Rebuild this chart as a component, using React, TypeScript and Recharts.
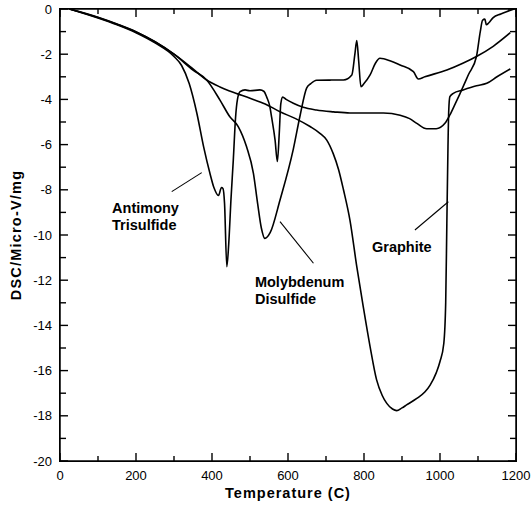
import React from "react";
import {
  LineChart,
  Line,
  XAxis,
  YAxis,
  ReferenceLine,
  ReferenceDot,
} from "recharts";

// ── Data (temperature °C, DSC µV/mg) ─────────────────────────────────────────

const antimony = [
  [25, 0], [100, -0.4], [150, -0.7], [200, -1.05], [250, -1.5], [300, -2.1],
  [320, -2.5], [340, -3.3], [360, -4.6], [378, -6.1], [395, -7.3], [405, -7.9],
  [417, -8.25], [425, -7.9], [429, -7.95], [433, -8.6], [439, -11.4], [444, -10.4],
  [450, -8.4], [456, -6.7], [462, -4.8], [467, -4.0], [474, -3.66], [487, -3.58],
  [500, -3.62], [526, -3.58], [537, -3.65], [544, -3.9], [552, -4.3], [557, -4.8],
  [566, -5.8], [572, -6.75], [577, -5.5], [581, -4.2], [586, -3.9], [595, -4.0],
  [614, -4.17], [640, -4.35], [675, -4.47], [720, -4.55], [763, -4.6], [851, -4.6],
  [895, -4.7], [920, -4.85], [939, -5.06], [965, -5.3], [990, -5.3], [1013, -5.06],
  [1026, -4.69], [1040, -4.2], [1053, -3.73], [1075, -2.9], [1096, -2.1],
  [1106, -1.0], [1112, -0.5], [1118, -0.45], [1122, -0.7], [1128, -0.62],
  [1140, -0.38], [1160, -0.22], [1175, -0.12], [1195, 0],
].map(([t, v]) => ({ t, v }));

const molybdenum = [
  [25, 0], [100, -0.38], [150, -0.68], [200, -1.02], [250, -1.45], [300, -2.0],
  [350, -2.7], [386, -3.14], [421, -4.03], [447, -4.77], [469, -5.2], [491, -6.1],
  [509, -7.27], [520, -8.6], [530, -9.7], [539, -10.15], [553, -9.9], [579, -8.45],
  [614, -6.2], [632, -4.7], [649, -3.5], [660, -3.3], [675, -3.15], [746, -3.14],
  [768, -2.92], [776, -2.0], [781, -1.4], [786, -2.3], [792, -3.44], [800, -3.3],
  [816, -2.92], [830, -2.4], [842, -2.18], [870, -2.3], [895, -2.48], [930, -2.77],
  [943, -3.1], [960, -3.0], [1018, -2.7], [1060, -2.4], [1096, -2.1],
  [1140, -1.65], [1185, -1.05],
].map(([t, v]) => ({ t, v }));

const graphite = [
  [25, 0], [100, -0.36], [150, -0.66], [200, -1.0], [250, -1.45], [300, -2.0],
  [350, -2.65], [386, -3.14], [421, -3.45], [450, -3.65], [500, -3.95], [540, -4.2],
  [579, -4.55], [620, -4.85], [658, -5.2], [684, -5.5], [702, -5.8], [719, -6.4],
  [733, -7.1], [746, -8.0], [763, -9.34], [781, -11.4], [798, -13.17], [816, -14.94],
  [833, -16.4], [848, -17.1], [860, -17.45], [875, -17.7], [886, -17.77],
  [900, -17.65], [912, -17.52], [939, -17.23], [960, -16.95], [974, -16.64],
  [990, -16.1], [1000, -15.6], [1010, -14.8], [1015, -13.0], [1018, -9.5],
  [1021, -6.1], [1023, -4.5], [1026, -3.88], [1035, -3.73], [1061, -3.58],
  [1096, -3.4], [1123, -3.29], [1150, -3.0], [1185, -2.65],
].map(([t, v]) => ({ t, v }));

const xTicks = [0, 100, 200, 300, 400, 500, 600, 700, 800, 900, 1000, 1100, 1200];
const yTicks = [0, -1, -2, -3, -4, -5, -6, -7, -8, -9, -10, -11, -12, -13, -14, -15, -16, -17, -18, -19, -20];

// annotation labels: [text lines], anchor (t, v) and pointer segment
const labels = [
  { lines: ["Antimony", "Trisulfide"], t: 137, v: -9.03, from: [294, -8.08], to: [373, -7.24] },
  { lines: ["Molybdenum", "Disulfide"], t: 513, v: -12.3, from: [579, -9.41], to: [667, -11.25] },
  { lines: ["Graphite"], t: 821, v: -10.75, from: [934, -9.78], to: [1022, -8.53] },
];

const FONT = "'Liberation Sans', Arial, Helvetica, sans-serif";
const INK = "#000";

// layout
const W = 532;
const H = 506;
const MARGIN = { top: 9, right: 16, bottom: 20, left: 0 };
const X_AXIS_H = 25;
const Y_AXIS_W = 60;
const PLOT_TOP = MARGIN.top;
const PLOT_RIGHT = W - MARGIN.right;
const PLOT_LEFT = MARGIN.left + Y_AXIS_W;
const PLOT_BOTTOM = H - MARGIN.bottom - X_AXIS_H;

// ── Ticks (drawn inward, mirrored on top / right frame) ─────────────────────

function BottomTick({ x, y, payload }: any) {
  const major = payload.value % 200 === 0;
  const len = major ? 8 : 5;
  return (
    <g>
      <line x1={x} x2={x} y1={y} y2={y - len} stroke={INK} strokeWidth={1.4} />
      <line x1={x} x2={x} y1={PLOT_TOP} y2={PLOT_TOP + len} stroke={INK} strokeWidth={1.4} />
      {major ? (
        <text x={x} y={y + 19} textAnchor="middle" fontFamily={FONT} fontSize={13} fill={INK}>
          {payload.value}
        </text>
      ) : null}
    </g>
  );
}

function LeftTick({ x, y, payload }: any) {
  const major = payload.value % 2 === 0;
  const len = major ? 8 : 6;
  return (
    <g>
      <line x1={x} x2={x + len} y1={y} y2={y} stroke={INK} strokeWidth={1.4} />
      <line x1={PLOT_RIGHT} x2={PLOT_RIGHT - len} y1={y} y2={y} stroke={INK} strokeWidth={1.4} />
      {major ? (
        <text x={x - 8} y={y + 4.5} textAnchor="end" fontFamily={FONT} fontSize={13} fill={INK}>
          {payload.value}
        </text>
      ) : null}
    </g>
  );
}

export default function App() {
  const axisLine = { stroke: INK, strokeWidth: 1.5 };
  return (
    <div style={{ position: "relative", width: W, height: H }}>
      <style>{"body{margin:0}"}</style>
      <LineChart width={W} height={H} margin={MARGIN}>
        <XAxis
          dataKey="t"
          type="number"
          domain={[0, 1200]}
          ticks={xTicks}
          interval={0}
          tickSize={0}
          tickMargin={0}
          tickLine={false}
          tick={<BottomTick />}
          axisLine={axisLine}
          height={X_AXIS_H}
          label={{
            content: ({ viewBox }: any) => (
              <text
                x={viewBox.x + viewBox.width / 2}
                y={498}
                textAnchor="middle"
                fontFamily={FONT}
                fontWeight="bold"
                fontSize={14.5}
                letterSpacing={1}
                fill={INK}
              >
                Temperature (C)
              </text>
            ),
          }}
        />
        <YAxis
          type="number"
          domain={[-20, 0]}
          ticks={yTicks}
          interval={0}
          tickSize={0}
          tickMargin={0}
          tickLine={false}
          tick={<LeftTick />}
          axisLine={axisLine}
          width={Y_AXIS_W}
          label={{
            content: ({ viewBox }: any) => {
              const cx = 16;
              const cy = viewBox.y + viewBox.height / 2;
              return (
                <text
                  x={cx}
                  y={cy}
                  transform={`rotate(-90 ${cx} ${cy})`}
                  textAnchor="middle"
                  dominantBaseline="central"
                  fontFamily={FONT}
                  fontWeight="bold"
                  fontSize={14.5}
                  letterSpacing={1.2}
                  fill={INK}
                >
                  DSC/Micro-V/mg
                </text>
              );
            },
          }}
        />

        <Line data={antimony} dataKey="v" type="monotone" stroke={INK} strokeWidth={1.6} dot={false} isAnimationActive={false} />
        <Line data={molybdenum} dataKey="v" type="monotone" stroke={INK} strokeWidth={1.6} dot={false} isAnimationActive={false} />
        <Line data={graphite} dataKey="v" type="monotone" stroke={INK} strokeWidth={1.6} dot={false} isAnimationActive={false} />

        {/* frame: top and right edges */}
        <ReferenceLine y={0} stroke={INK} strokeWidth={1.5} />
        <ReferenceLine x={1200} stroke={INK} strokeWidth={1.5} />

        {labels.map((l) => (
          <ReferenceLine
            key={"p" + l.lines[0]}
            segment={[{ x: l.from[0], y: l.from[1] }, { x: l.to[0], y: l.to[1] }]}
            stroke={INK}
            strokeWidth={1.1}
          />
        ))}
        {labels.map((l) => (
          <ReferenceDot
            key={"t" + l.lines[0]}
            x={l.t}
            y={l.v}
            r={0}
            shape={(p: any) => (
              <text x={p.cx} y={p.cy} fontFamily={FONT} fontWeight="bold" fontSize={14.5} fill={INK}>
                {l.lines.map((s, i) => (
                  <tspan key={s} x={p.cx} dy={i === 0 ? 0 : 17}>
                    {s}
                  </tspan>
                ))}
              </text>
            )}
          />
        ))}
      </LineChart>
      {/* plot frame outline, in case the svg edges are not drawn */}
      <div
        style={{
          position: "absolute",
          left: PLOT_LEFT - 0.75,
          top: PLOT_TOP - 0.75,
          width: PLOT_RIGHT - PLOT_LEFT,
          height: PLOT_BOTTOM - PLOT_TOP,
          border: "1.5px solid #000",
          pointerEvents: "none",
        }}
      />
    </div>
  );
}
